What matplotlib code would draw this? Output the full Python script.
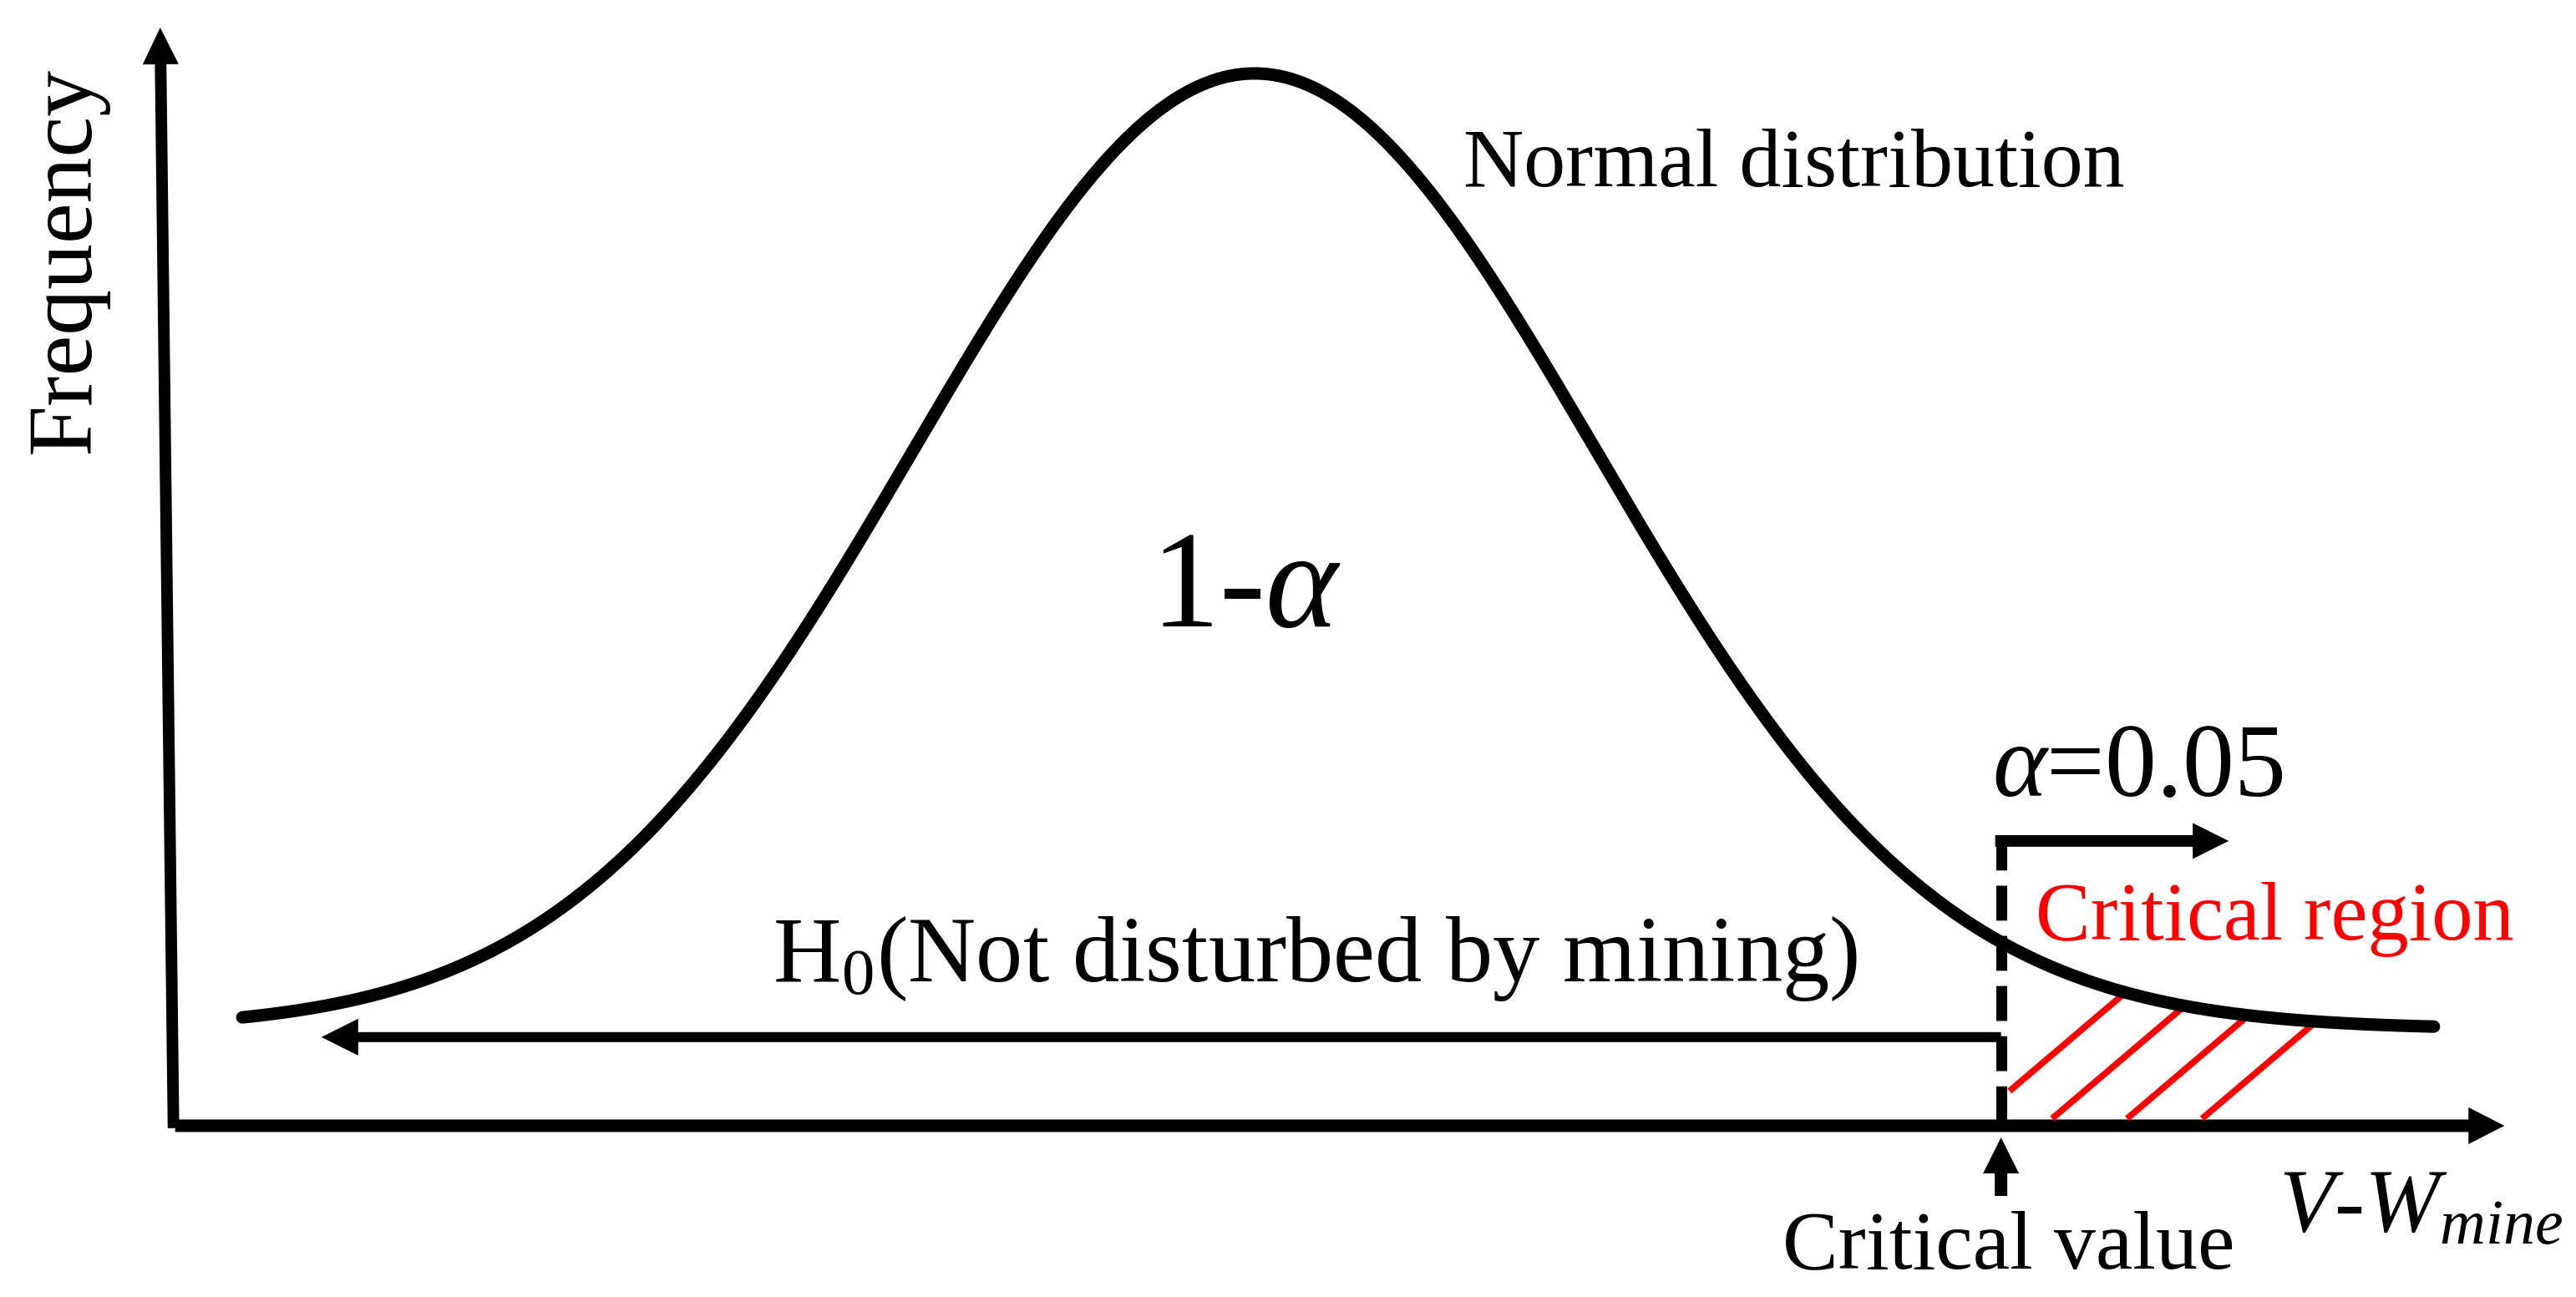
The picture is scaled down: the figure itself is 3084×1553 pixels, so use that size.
import numpy as np
import matplotlib.pyplot as plt

plt.rcParams['font.family'] = ['Liberation Serif', 'DejaVu Serif']
plt.rcParams['mathtext.fontset'] = 'custom'
plt.rcParams['mathtext.rm'] = 'Liberation Serif'
plt.rcParams['mathtext.it'] = 'Liberation Serif:italic'

# --- schematic values (x in sigma units, y in density units) ---
mu, sigma = 0.0, 1.0
base = 0.0404                 # curve sits this far above the x axis
z_left, z_right = -2.97, 3.46  # ends of the drawn curve
z_crit = 2.19                 # critical value

hatch_feet = [2.12, 2.34, 2.56, 2.78]   # where the red strokes start on the axis
hatch_slope = 0.121
hatch_y0 = 0.003

x_axis_z = [-3.167, 3.667]
y_axis_z = [-3.172, -3.211]
y_axis_top = 0.4585
h0_y, h0_end = 0.037, -2.738
alpha_y, alpha_end = 0.1189, 2.858
crit_arrow_y = [-0.0293, -0.0049]


def curve(z):
    return base + np.exp(-0.5 * ((z - mu) / sigma) ** 2) / (sigma * np.sqrt(2 * np.pi))


def arrow(ax, p0, p1, shaft, head_len, head_w):
    ax.annotate('', xy=p1, xytext=p0,
                arrowprops=dict(arrowstyle=f'simple,head_length={head_len},head_width={head_w},tail_width={shaft}',
                                mutation_scale=1, fc='k', ec='none', lw=0,
                                shrinkA=0, shrinkB=0))


W, H = 3084, 1553
fig = plt.figure(figsize=(W / 100, H / 100), dpi=100)
ax = fig.add_axes([0, 0, 1, 1])
ax.set_xlim(-3.681, 3.877)
ax.set_ylim(-0.0715, 0.470)
ax.axis('off')


def at(px, py):
    return px / W, 1 - py / H


# axes
arrow(ax, (x_axis_z[0], 0.0), (x_axis_z[1], 0.0), 10.8, 31, 31.7)
arrow(ax, (y_axis_z[0], -0.001), (y_axis_z[1], y_axis_top), 10, 31.7, 31)

# normal curve
zz = np.linspace(z_left, z_right, 800)
ax.plot(zz, curve(zz), color='k', lw=10.8, solid_capstyle='round', zorder=5)

# hatch in the critical region
for zb in hatch_feet:
    zs = np.linspace(max(zb, z_crit + 0.025), z_right, 3000)
    line = hatch_y0 + hatch_slope * (zs - zb)
    i = np.argmax(line >= curve(zs))
    ax.plot([zs[0], zs[i]], [line[0], line[i]], color='#ff0000', lw=5.5,
            solid_capstyle='butt', zorder=3)

# H0 arrow, alpha arrow, dashed critical line, critical value arrow
arrow(ax, (z_crit, h0_y), (h0_end, h0_y), 8.6, 31.7, 31.7)
arrow(ax, (z_crit - 0.017, alpha_y), (alpha_end, alpha_y), 10, 31, 31)
ax.plot([z_crit, z_crit], [0.1213, 0.0], color='k', lw=9.4,
        ls=(0, (3.2, 1.4)), dash_capstyle='butt', zorder=4)
arrow(ax, (z_crit, crit_arrow_y[0]), (z_crit, crit_arrow_y[1]), 10.8, 31, 31)

# texts
fig.text(*at(107, 311), 'Frequency', rotation=90, rotation_mode='anchor',
         ha='center', va='baseline', fontsize=79)
fig.text(*at(1752, 223), 'Normal distribution', ha='left', va='baseline', fontsize=72)
fig.text(*at(1492, 750), r'1-$\alpha$', ha='center', va='baseline', fontsize=119)
fig.text(*at(2385, 953), r'$\alpha$=0.05', ha='left', va='baseline', fontsize=89)
fig.text(*at(2437, 1125), 'Critical region', ha='left', va='baseline',
         fontsize=71, color='#ff0000')
fig.text(*at(925, 1175), r'H$_0$(Not disturbed by mining)', ha='left',
         va='baseline', fontsize=81)
fig.text(*at(2405, 1518), 'Critical value', ha='center', va='baseline', fontsize=72)
fig.text(*at(2728, 1475), r'$V$-$W_{mine}$', ha='left', va='baseline', fontsize=78)

fig.savefig('out.png', dpi=100)
